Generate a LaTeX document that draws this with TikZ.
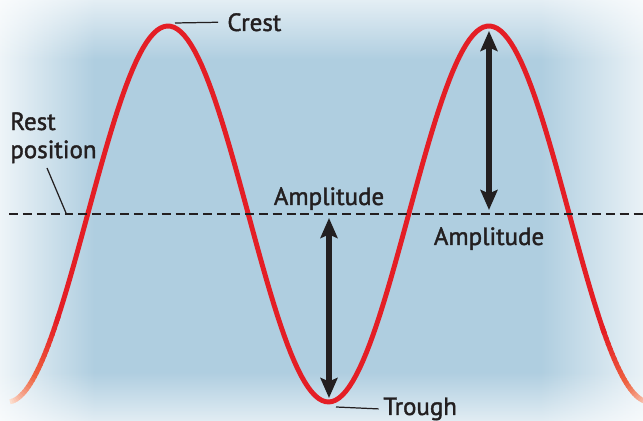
\documentclass[tikz,border=0pt]{standalone}
\usepackage{fontspec}
\setmainfont{PT Sans}
\newfontfamily\labelfont[BoldFont={PT Sans}, BoldFeatures={FakeBold=1.6}]{PT Sans}
\usetikzlibrary{arrows.meta,fadings}
\definecolor{waveRed}{RGB}{228,30,37}
\definecolor{waveOrange}{RGB}{238,98,64}
\definecolor{waveFade}{RGB}{252,222,206}
\definecolor{seaBlue}{RGB}{175,206,224}
\definecolor{inkDark}{RGB}{35,31,32}
\tikzfading[name=fadeLeft, left color=transparent!0, right color=transparent!100]
\tikzfading[name=fadeRight, left color=transparent!100, right color=transparent!0]
\tikzfading[name=fadeTop, top color=transparent!0, bottom color=transparent!100]
\tikzfading[name=fadeBottom, top color=transparent!100, bottom color=transparent!0]
\newcommand{\waveY}[1]{214-188*cos(1.12150*(#1-168))}

\begin{document}
\begin{tikzpicture}[x={(0.02cm,0)}, y={(0,-0.02cm)},
    waveLine/.style={line width=2.8pt},
    restLine/.style={inkDark, line width=1.4pt, dash pattern=on 5.1pt off 2.8pt},
    ampArrow/.style={{Stealth[length=0.4cm, width=0.34cm, inset=0.07cm]}-{Stealth[length=0.4cm, width=0.34cm, inset=0.07cm]}, inkDark, line width=3.4pt},
    leaderLine/.style={inkDark, line width=0.7pt},
    waveLabel/.style={inner sep=0pt, text=inkDark, font=\labelfont\bfseries\fontsize{14.2}{16}\selectfont}]

  \useasboundingbox (0,0) rectangle (643,421);
  \clip (0,0) rectangle (643,421);

  % background with soft edges
  \fill[seaBlue] (0,0) rectangle (643,421);
  \fill[white, path fading=fadeLeft] (-25,-40) rectangle (95,461);
  \fill[white, path fading=fadeRight] (540,-40) rectangle (680,461);
  \fill[white, path fading=fadeTop] (-40,-30) rectangle (683,60);
  \fill[white, path fading=fadeBottom] (-40,372) rectangle (683,450);

  % wave, faded at both ends
  \draw[waveLine, waveRed] plot[domain=57:604, samples=160] (\x, {\waveY{\x}});
  \foreach \i in {0,...,23} {
    \pgfmathsetmacro{\xa}{10+2*\i}
    \pgfmathsetmacro{\xb}{12.6+2*\i}
    \pgfmathsetmacro{\xc}{648-2*\i}
    \pgfmathsetmacro{\xd}{650.6-2*\i}
    \ifnum\i<12
      \pgfmathsetmacro{\pct}{100*\i/12}
      \colorlet{endColor}{waveOrange!\pct!waveFade}
    \else
      \pgfmathsetmacro{\pct}{100*(\i-12)/11}
      \colorlet{endColor}{waveRed!\pct!waveOrange}
    \fi
    \draw[waveLine, endColor] plot[domain=\xa:\xb, samples=3] (\x, {\waveY{\x}});
    \draw[waveLine, endColor] plot[domain=\xc:\xd, samples=3] (\x, {\waveY{\x}});
  }

  % rest position
  \coordinate (restStart) at (9,214);
  \coordinate (restEnd) at (643,214);
  \draw[restLine] (restStart) -- (restEnd);

  % amplitude arrows
  \coordinate (ampTopA) at (329,218);
  \coordinate (ampBotA) at (329,398);
  \coordinate (ampTopB) at (489,31);
  \coordinate (ampBotB) at (489,210);
  \draw[ampArrow] (ampTopA) -- (ampBotA);
  \draw[ampArrow] (ampTopB) -- (ampBotB);

  % labels
  \node[waveLabel, anchor=base west] (crestLabel) at (227,31) {Crest};
  \node[waveLabel, anchor=north west, align=left] (restLabel) at (10,112) {Rest\\position};
  \node[waveLabel, anchor=base] (ampLabelA) at (329,205) {Amplitude};
  \node[waveLabel, anchor=base] (ampLabelB) at (489,245) {Amplitude};
  \node[waveLabel, anchor=base west] (troughLabel) at (383,415) {Trough};

  \coordinate (crestTip) at (175,23);
  \coordinate (troughTip) at (336,407);
  \coordinate (restTip) at (47,168);
  \coordinate (restFoot) at (66,213);
  \draw[leaderLine] (crestTip) -- ([xshift=-5pt]crestLabel.west);
  \draw[leaderLine] (troughTip) -- ([xshift=-2.5pt]troughLabel.west);
  \draw[leaderLine] (restTip) -- (restFoot);
\end{tikzpicture}
\end{document}
